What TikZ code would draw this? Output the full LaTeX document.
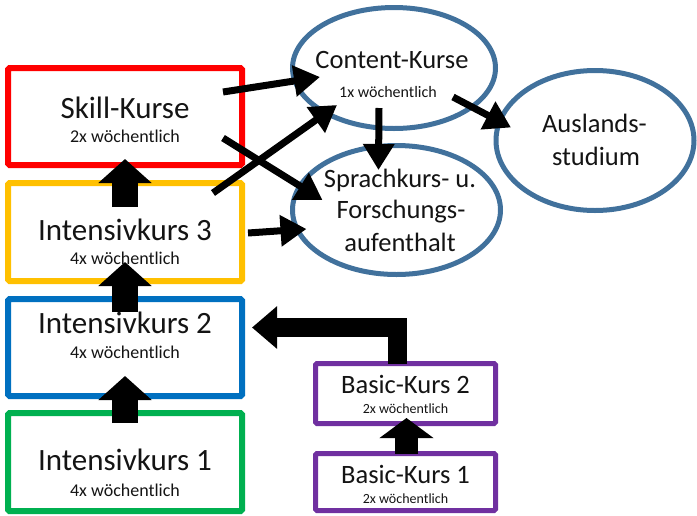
\documentclass[tikz,border=0pt]{standalone}
\usepackage{fontspec}
\setmainfont{Carlito}
\usetikzlibrary{arrows.meta,shapes.geometric}
\definecolor{kred}{RGB}{255,0,0}
\definecolor{kyellow}{RGB}{255,192,0}
\definecolor{kblue}{RGB}{0,112,192}
\definecolor{kgreen}{RGB}{0,176,80}
\definecolor{kpurple}{RGB}{112,48,160}
\definecolor{kell}{RGB}{65,113,156}
\definecolor{ktext}{RGB}{20,20,20}
\begin{document}
\begin{tikzpicture}[x=1pt,y=-1pt,
  kbox/.style={draw, line width=6pt, rectangle, rounded corners=1.5pt, outer sep=0pt, inner sep=0pt, minimum width=234pt},
  pbox/.style={draw=kpurple, line width=5pt, rectangle, rounded corners=1.5pt, outer sep=0pt, inner sep=0pt, minimum width=180pt},
  oval/.style={draw=kell, line width=5pt, ellipse, outer sep=0pt, inner sep=0pt},
  big/.style={anchor=base, inner sep=0pt, text=ktext, font=\fontsize{31}{31}\selectfont},
  mid/.style={anchor=base, inner sep=0pt, text=ktext, font=\fontsize{26.5}{26.5}\selectfont},
  sub/.style={anchor=base, inner sep=0pt, text=ktext, font=\fontsize{18}{18}\selectfont},
  tiny/.style={anchor=base, inner sep=0pt, text=ktext, font=\fontsize{14}{14}\selectfont},
  thin/.style={line width=7pt, -{Triangle[length=26pt,width=30pt]}},
  blk/.style={line width=26pt, -{Triangle[length=24pt,width=52pt]}},
  blks/.style={line width=23pt, -{Triangle[length=20pt,width=53pt]}},
  elbow/.style={line width=19pt, line join=miter, -{Triangle[length=25pt,width=41pt]}}
]
\useasboundingbox (0,0) rectangle (697,515);

% boxes
\node[kbox, draw=kred, minimum height=97pt] (skill) at (125,116.5) {};
\node[kbox, draw=kyellow, minimum height=98pt] (i3) at (125,232) {};
\node[kbox, draw=kblue, minimum height=97pt] (i2) at (125,347.5) {};
\node[kbox, draw=kgreen, minimum height=98pt] (i1) at (125,462) {};
\node[pbox, minimum height=60pt] (b2) at (405.5,393.5) {};
\node[pbox, minimum height=57pt] (b1) at (405.5,482) {};

% ellipses
\node[oval, minimum width=203pt, minimum height=121pt] (content) at (394,68) {};
\node[oval, minimum width=208pt, minimum height=129pt] (sprach) at (396.5,210) {};
\node[oval, minimum width=198pt, minimum height=140pt] (ausl) at (595,140.5) {};

% texts
\node[big] (skillT) at (125,118) {Skill-Kurse};
\node[sub] (skillS) at (125,142) {2x wöchentlich};
\node[big] (i3T) at (125,240) {Intensivkurs 3};
\node[sub] (i3S) at (125,264) {4x wöchentlich};
\node[big] (i2T) at (125,333) {Intensivkurs 2};
\node[sub] (i2S) at (125,358) {4x wöchentlich};
\node[big] (i1T) at (125,470) {Intensivkurs 1};
\node[sub] (i1S) at (125,496) {4x wöchentlich};
\node[mid] (b2T) at (405.5,393) {Basic-Kurs 2};
\node[tiny] (b2S) at (405.5,413) {2x wöchentlich};
\node[mid] (b1T) at (405.5,483) {Basic-Kurs 1};
\node[tiny] (b1S) at (405.5,503) {2x wöchentlich};
\node[mid] (contentT) at (392,68) {Content-Kurse};
\node[tiny, font=\fontsize{16}{16}\selectfont] (contentS) at (388,97) {1x wöchentlich};
\node[mid] (sprachA) at (400,187) {Sprachkurs- u.};
\node[mid] (sprachB) at (401,218) {Forschungs-};
\node[mid] (sprachC) at (400,251) {aufenthalt};
\node[mid] (auslA) at (594.5,132) {Auslands-};
\node[mid] (auslB) at (596,165) {studium};

% block arrows
\draw[blk] ([yshift=25pt]i3.center) -- ([yshift=6pt]skill.south);
\draw[blk] ([yshift=35.5pt]i2.center) -- ([yshift=19pt]i3.south);
\draw[blk] ([yshift=-10pt]i1.north) -- ([yshift=20pt]i2.south);
\draw[blks] ([xshift=1pt]b1.north) -- ([xshift=1pt,yshift=5.5pt]b2.south);
\draw[elbow] ([xshift=-8.5pt]b2.north) |- ([xshift=10pt,yshift=20pt]i2.east);

% thin arrows
\draw[thin] ([shift={(98,-24.5)}]skill.center) -- ([shift={(-74,9)}]content.center);
\draw[thin] ([shift={(88,-39)}]i3.center) -- ([shift={(-57,37)}]content.center);
\draw[thin] ([shift={(98,21.5)}]skill.center) -- ([shift={(-74,-10)}]sprach.center);
\draw[thin] ([shift={(123,1)}]i3.center) -- ([shift={(-90,19)}]sprach.center);
\draw[thin] ([shift={(-15,40)}]content.center) -- ([shift={(-18,-40)}]sprach.center);
\draw[thin] ([shift={(59,29)}]content.center) -- ([shift={(-84,-13)}]ausl.center);
\end{tikzpicture}
\end{document}
